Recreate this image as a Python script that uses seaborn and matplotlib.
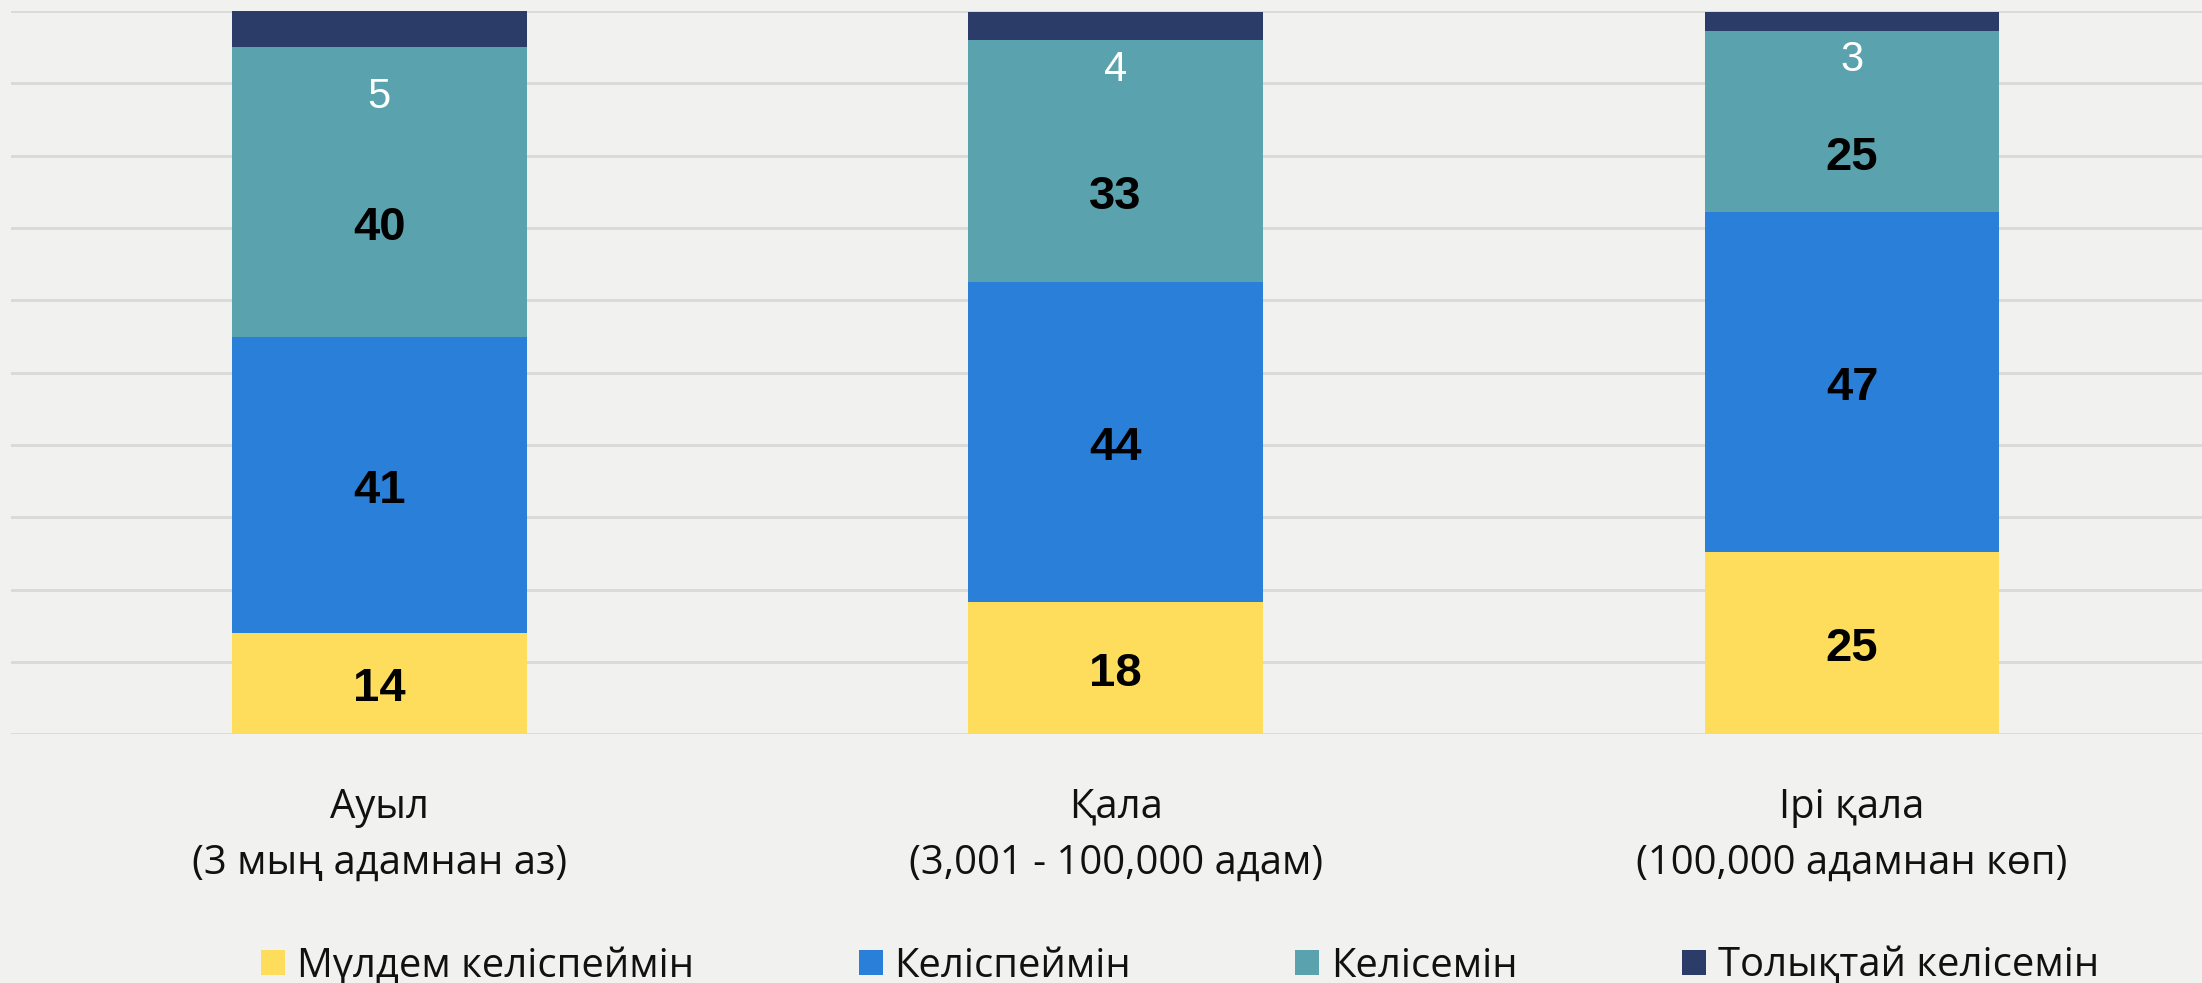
import numpy as np
import pandas as pd
import seaborn as sns
import matplotlib.pyplot as plt
from matplotlib.patches import Patch

# data (percent)
cats = ['Ауыл\n(3 мың адамнан аз)', 'Қала\n(3,001 - 100,000 адам)', 'Ірі қала\n(100,000 адамнан көп)']
strongly_disagree = [14, 18.3, 25.2]
disagree = [41, 44.3, 47.0]
agree = [40, 33.4, 25.0]
strongly_agree = [5, 3.9, 2.7]
series_names = ['Мүлдем келіспеймін', 'Келіспеймін', 'Келісемін', 'Толықтай келісемін']

colors = ['#ffdd5c', '#2a7fd8', '#5aa3ae', '#2c3c68']
bg = '#f1f1ef'

sns.set_theme(style='white')
plt.rcParams['font.family'] = ['Open Sans', 'DejaVu Sans']

df = pd.DataFrame({'cat': cats, 's1': strongly_disagree, 's2': disagree,
                   's3': agree, 's4': strongly_agree})
layers = ['s1', 's2', 's3', 's4']
cum = df[layers].cumsum(axis=1)

fig = plt.figure(figsize=(22.02, 9.83), dpi=100, facecolor=bg)
ax = fig.add_axes([0.005, 0.253, 0.995, 0.7357])
ax.set_facecolor(bg)

# draw tallest stack first, then overlay the lower parts
for col, c in reversed(list(zip(layers, colors))):
    sns.barplot(x=df['cat'], y=cum[col], color=c, saturation=1, width=0.4,
                linewidth=0, ax=ax, zorder=3)

ax.set_ylim(0, 100)
ax.set_xlim(-0.5, 2.475)
ax.set_yticks(np.arange(0, 101, 10))
ax.yaxis.grid(True, color='#d9d9d9', linewidth=2, zorder=0)
ax.set_axisbelow(True)
for s in ax.spines.values():
    s.set_visible(False)
ax.tick_params(axis='y', left=False, labelleft=False)
ax.tick_params(axis='x', bottom=False, pad=32)
ax.set_xlabel('')
ax.set_ylabel('')
ax.set_xticks(range(len(cats)))
ax.set_xticklabels(cats, fontsize=28.8, color='#111111', linespacing=1.5)

# segment labels (the teal ones sit a bit below the middle, as in the original)
label_shift = {'s1': -0.8, 's2': -0.8, 's3': -5.0}
for i in range(len(cats)):
    bottoms = [0, cum['s1'][i], cum['s2'][i]]
    for col, b in zip(['s1', 's2', 's3'], bottoms):
        v = df[col][i]
        ax.text(i, b + v / 2 + label_shift[col], f'{v:.0f}', ha='center', va='center',
                fontsize=34, fontweight='bold', family='Liberation Sans',
                color='black', zorder=5)

# white labels for the thin top segment, sitting just under it
top_drop = [6.9, 4.1, 3.9]
for i in range(len(cats)):
    y = cum['s3'][i] - top_drop[i]
    ax.text(i, y, f'{df["s4"][i]:.0f}', ha='center', va='center', fontsize=30,
            family='Liberation Sans', color='white', zorder=5)

handles = [Patch(facecolor=c, edgecolor='none') for c in colors]
fig.legend(handles, series_names, loc='center', bbox_to_anchor=(0.536, 0.017),
           ncol=4, frameon=False, fontsize=28.8, handlelength=0.6, handleheight=0.6,
           handletextpad=0.3, columnspacing=4.1, labelcolor='#111111')

fig.savefig('out.png', dpi=100, facecolor=bg)
